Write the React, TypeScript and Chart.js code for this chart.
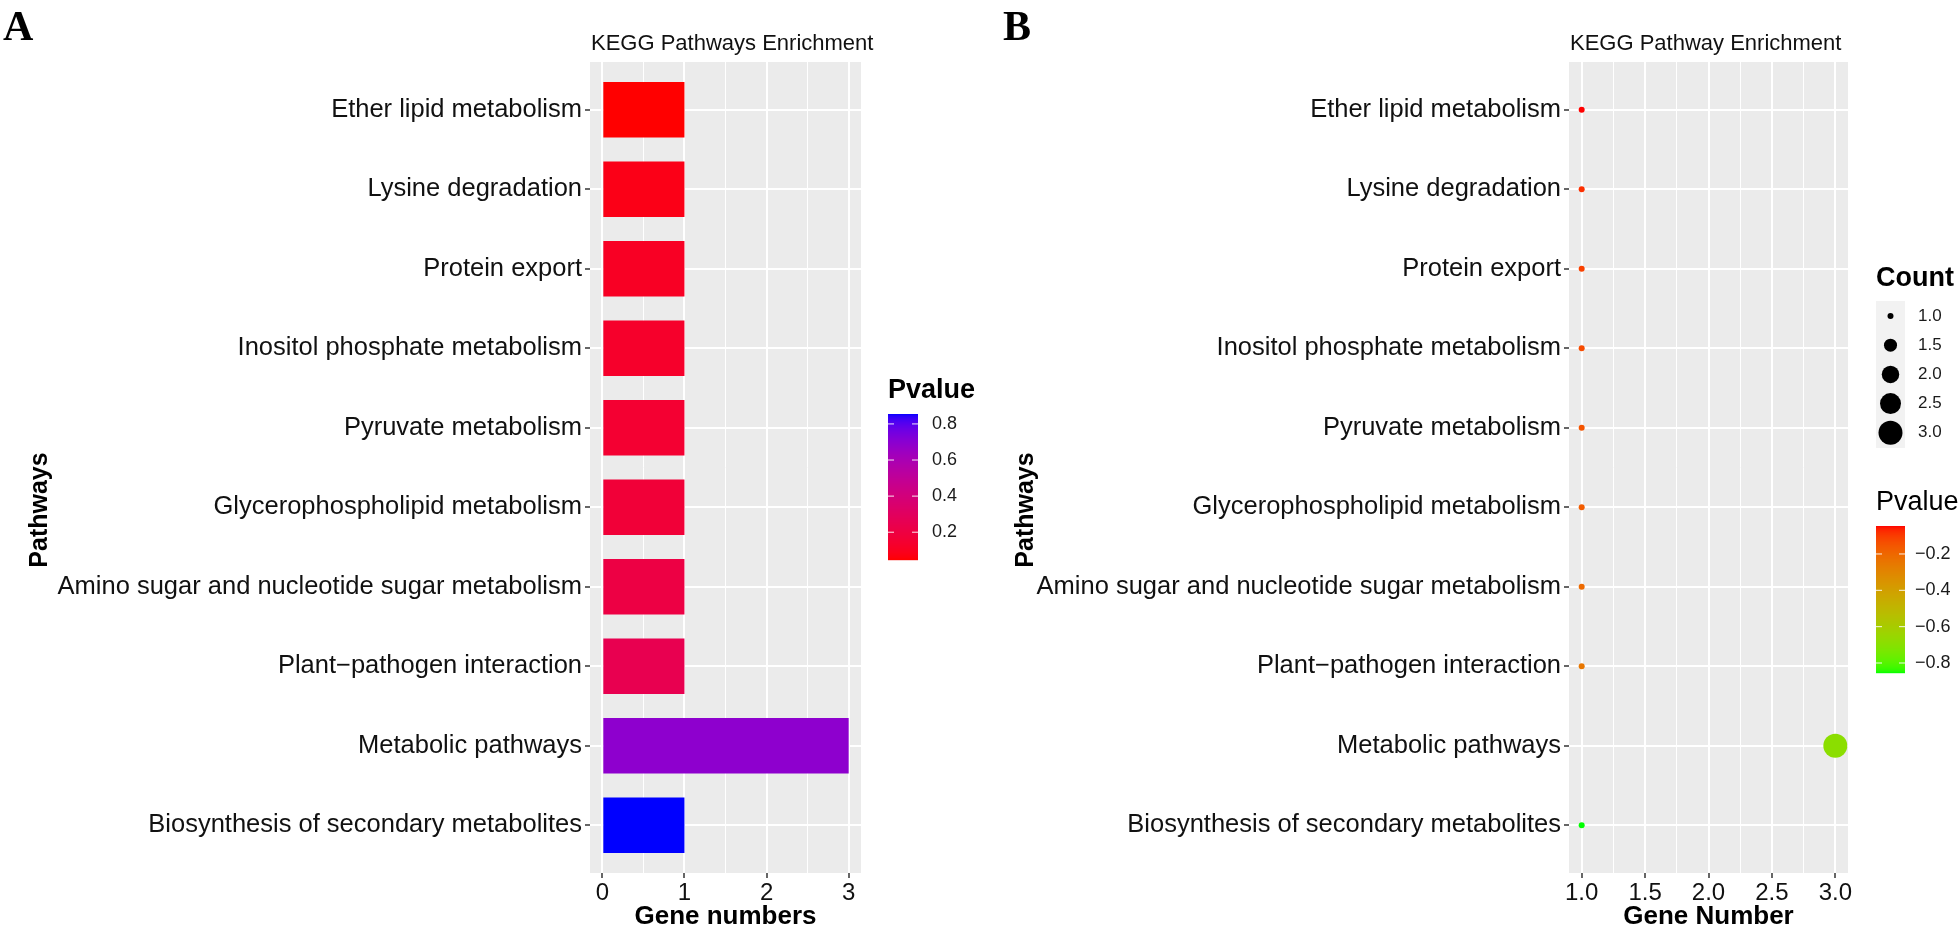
import React, { useEffect, useRef } from "react";
import { Chart, registerables } from "chart.js";

Chart.register(...registerables);

// ---------------- data ----------------
const pathways = [
  "Ether lipid metabolism",
  "Lysine degradation",
  "Protein export",
  "Inositol phosphate metabolism",
  "Pyruvate metabolism",
  "Glycerophospholipid metabolism",
  "Amino sugar and nucleotide sugar metabolism",
  "Plant\u2212pathogen interaction",
  "Metabolic pathways",
  "Biosynthesis of secondary metabolites",
];
const geneNumbersA = [1, 1, 1, 1, 1, 1, 1, 1, 3, 1];
const pvaluesA = [0.046, 0.08, 0.11, 0.13, 0.15, 0.17, 0.21, 0.25, 0.69, 0.855];

const geneNumbersB = [1, 1, 1, 1, 1, 1, 1, 1, 3, 1];
const countsB = [1, 1, 1, 1, 1, 1, 1, 1, 3, 1];
const pvaluesB = [-0.046, -0.08, -0.11, -0.13, -0.15, -0.17, -0.21, -0.25, -0.69, -0.855];

const xTicksA = [0, 0.5, 1, 1.5, 2, 2.5, 3];
const xMajorA = [0, 1, 2, 3];
const xTicksB = [1, 1.25, 1.5, 1.75, 2, 2.25, 2.5, 2.75, 3];
const xMajorB = [1, 1.5, 2, 2.5, 3];
const pvalueBreaksA = [0.2, 0.4, 0.6, 0.8];
const pvalueBreaksB = [-0.8, -0.6, -0.4, -0.2];
const countBreaks = [1, 1.5, 2, 2.5, 3];

const FONT = '"Liberation Sans", Arial, Helvetica, sans-serif';
const SERIF = '"Liberation Serif", "Times New Roman", serif';

// ---------------- colour helpers (CIELAB interpolation like ggplot) ----------------
function hexToRgb(h: string): number[] {
  const n = parseInt(h.slice(1), 16);
  return [(n >> 16) & 255, (n >> 8) & 255, n & 255];
}
function toLin(c: number) {
  c /= 255;
  return c <= 0.04045 ? c / 12.92 : Math.pow((c + 0.055) / 1.055, 2.4);
}
function fromLin(c: number) {
  const v = c <= 0.0031308 ? 12.92 * c : 1.055 * Math.pow(c, 1 / 2.4) - 0.055;
  return Math.round(Math.max(0, Math.min(1, v)) * 255);
}
const Xn = 0.95047, Yn = 1, Zn = 1.08883;
function rgbToLab(rgb: number[]): number[] {
  const [R, G, B] = rgb.map(toLin);
  const X = 0.4124564 * R + 0.3575761 * G + 0.1804375 * B;
  const Y = 0.2126729 * R + 0.7151522 * G + 0.072175 * B;
  const Z = 0.0193339 * R + 0.119192 * G + 0.9503041 * B;
  const f = (t: number) => (t > 0.008856 ? Math.cbrt(t) : 7.787 * t + 16 / 116);
  const fx = f(X / Xn), fy = f(Y / Yn), fz = f(Z / Zn);
  return [116 * fy - 16, 500 * (fx - fy), 200 * (fy - fz)];
}
function labToRgb(lab: number[]): number[] {
  const [L, a, b] = lab;
  const fy = (L + 16) / 116;
  const fx = fy + a / 500;
  const fz = fy - b / 200;
  const inv = (t: number) => (t > 0.206893 ? t * t * t : (t - 16 / 116) / 7.787);
  const X = inv(fx) * Xn, Y = inv(fy) * Yn, Z = inv(fz) * Zn;
  const R = 3.2404542 * X - 1.5371385 * Y - 0.4985314 * Z;
  const G = -0.969266 * X + 1.8760108 * Y + 0.041556 * Z;
  const B = 0.0556434 * X - 0.2040259 * Y + 1.0572252 * Z;
  return [fromLin(R), fromLin(G), fromLin(B)];
}
function makeScale(lowHex: string, highHex: string, min: number, max: number) {
  const lo = rgbToLab(hexToRgb(lowHex));
  const hi = rgbToLab(hexToRgb(highHex));
  return (v: number) => {
    const t = Math.max(0, Math.min(1, (v - min) / (max - min)));
    const rgb = labToRgb([0, 1, 2].map((i) => lo[i] + (hi[i] - lo[i]) * t));
    return `rgb(${rgb[0]},${rgb[1]},${rgb[2]})`;
  };
}

const minA = Math.min(...pvaluesA), maxA = Math.max(...pvaluesA);
const colorA = makeScale("#FF0000", "#0000FF", minA, maxA);
const minB = Math.min(...pvaluesB), maxB = Math.max(...pvaluesB);
const colorB = makeScale("#00FF00", "#FF0000", minB, maxB);

// point radius (area-proportional size scale)
const sizeOf = (c: number) => Math.sqrt(9 + 67.5 * (c - 1));

// ---------------- drawing plugins ----------------
function backgroundPlugin(id: string) {
  return {
    id,
    beforeDraw(chart: any) {
      const { ctx, chartArea: a } = chart;
      ctx.save();
      ctx.fillStyle = "#FFFFFF";
      ctx.fillRect(0, 0, chart.width, chart.height);
      ctx.fillStyle = "#EBEBEB";
      ctx.fillRect(a.left, a.top, a.right - a.left, a.bottom - a.top);
      ctx.restore();
    },
  };
}

function drawColorbar(
  ctx: CanvasRenderingContext2D,
  x: number, y: number, w: number, h: number,
  min: number, max: number, scale: (v: number) => string,
  breaks: number[], labelX: number, fmt: (v: number) => string
) {
  for (let i = 0; i < h; i++) {
    const v = max - ((i + 0.5) / h) * (max - min);
    ctx.fillStyle = scale(v);
    ctx.fillRect(x, y + i, w, 1.2);
  }
  ctx.font = `18px ${FONT}`;
  ctx.textBaseline = "middle";
  ctx.textAlign = "left";
  breaks.forEach((b) => {
    const py = y + h - ((b - min) / (max - min)) * h;
    ctx.strokeStyle = "rgba(255,255,255,0.9)";
    ctx.lineWidth = 1;
    ctx.beginPath();
    ctx.moveTo(x, py);
    ctx.lineTo(x + 6, py);
    ctx.moveTo(x + w - 6, py);
    ctx.lineTo(x + w, py);
    ctx.stroke();
    ctx.fillStyle = "#1A1A1A";
    ctx.fillText(fmt(b), labelX, py);
  });
}

function drawYTitle(ctx: CanvasRenderingContext2D, x: number, y: number) {
  ctx.save();
  ctx.translate(x, y);
  ctx.rotate(-Math.PI / 2);
  ctx.font = `bold 25px ${FONT}`;
  ctx.fillStyle = "#000";
  ctx.textAlign = "center";
  ctx.textBaseline = "middle";
  ctx.fillText("Pathways", 0, 0);
  ctx.restore();
}

const annotateA = {
  id: "annotateA",
  afterDraw(chart: any) {
    const { ctx, chartArea: a } = chart;
    ctx.save();
    ctx.fillStyle = "#000";
    ctx.font = `bold 42px ${SERIF}`;
    ctx.textBaseline = "alphabetic";
    ctx.textAlign = "left";
    ctx.fillText("A", 3, 40);
    ctx.font = `22px ${FONT}`;
    ctx.fillStyle = "#111";
    ctx.fillText("KEGG Pathways Enrichment", a.left + 1, 50);
    drawYTitle(ctx, 40, 510);
    ctx.font = `bold 27px ${FONT}`;
    ctx.fillStyle = "#000";
    ctx.textBaseline = "alphabetic";
    ctx.textAlign = "left";
    ctx.fillText("Pvalue", 888, 398);
    drawColorbar(ctx, 888, 414, 30, 146, minA, maxA, colorA, pvalueBreaksA, 932, (v) => v.toFixed(1));
    ctx.restore();
  },
};

const annotateB = {
  id: "annotateB",
  afterDraw(chart: any) {
    const { ctx, chartArea: a } = chart;
    const ox = 980;
    ctx.save();
    ctx.fillStyle = "#000";
    ctx.font = `bold 42px ${SERIF}`;
    ctx.textBaseline = "alphabetic";
    ctx.textAlign = "left";
    ctx.fillText("B", 1003 - ox, 40);
    ctx.font = `22px ${FONT}`;
    ctx.fillStyle = "#111";
    ctx.fillText("KEGG Pathway Enrichment", a.left + 1, 50);
    drawYTitle(ctx, 1026 - ox, 510);

    // Count legend
    ctx.textAlign = "left";
    ctx.textBaseline = "alphabetic";
    ctx.font = `bold 27px ${FONT}`;
    ctx.fillStyle = "#000";
    ctx.fillText("Count", 1876 - ox, 286);
    ctx.fillStyle = "#F2F2F2";
    ctx.fillRect(1876 - ox, 301, 29, 147);
    ctx.font = `17px ${FONT}`;
    ctx.textBaseline = "middle";
    countBreaks.forEach((c, i) => {
      const cy = 316 + i * 29.2;
      ctx.fillStyle = "#000";
      ctx.beginPath();
      ctx.arc(1890.5 - ox, cy, sizeOf(c), 0, Math.PI * 2);
      ctx.fill();
      ctx.fillStyle = "#1A1A1A";
      ctx.fillText(c.toFixed(1), 1918 - ox, cy);
    });

    // Pvalue legend
    ctx.textBaseline = "alphabetic";
    ctx.font = `27px ${FONT}`;
    ctx.fillStyle = "#000";
    ctx.fillText("Pvalue", 1876 - ox, 510);
    drawColorbar(ctx, 1876 - ox, 526, 29, 147, minB, maxB, colorB, pvalueBreaksB, 1915 - ox,
      (v) => (v < 0 ? "\u2212" : "") + Math.abs(v).toFixed(1));
    ctx.restore();
  },
};

// ---------------- shared axis options ----------------
function yAxis(width: number) {
  return {
    type: "linear",
    reverse: true,
    offset: false,
    min: -0.6,
    max: 9.6,
    afterBuildTicks: (s: any) => {
      s.ticks = pathways.map((_, i) => ({ value: i }));
    },
    afterFit: (s: any) => {
      s.width = width;
    },
    ticks: {
      autoSkip: false,
      padding: 3,
      color: "#111",
      font: { size: 25.5, family: FONT },
      callback: (v: any) => pathways[v as number],
    },
    grid: {
      offset: false,
      color: "#FFFFFF",
      lineWidth: 2,
      drawTicks: true,
      tickLength: 5,
      tickColor: "#333333",
      tickWidth: 1.5,
    },
    border: { display: false },
    title: { display: false },
  };
}

function xAxis(min: number, max: number, ticks: number[], majors: number[], title: string, fmt: (v: number) => string) {
  const isMajor = (v: number) => majors.some((m) => Math.abs(m - v) < 1e-9);
  return {
    type: "linear",
    offset: false,
    min,
    max,
    afterBuildTicks: (s: any) => {
      s.ticks = ticks.map((v) => ({ value: v }));
    },
    afterFit: (s: any) => {
      s.height = 57;
    },
    ticks: {
      autoSkip: false,
      maxRotation: 0,
      padding: 1,
      color: "#111",
      font: { size: 24, family: FONT },
      callback: (v: any) => (isMajor(v as number) ? fmt(v as number) : ""),
    },
    grid: {
      offset: false,
      color: "#FFFFFF",
      lineWidth: (c: any) => (c.tick && isMajor(c.tick.value) ? 2 : 1),
      drawTicks: true,
      tickLength: 5,
      tickColor: (c: any) => (c.tick && isMajor(c.tick.value) ? "#333333" : "rgba(0,0,0,0)"),
      tickWidth: 1.5,
    },
    border: { display: false },
    title: {
      display: true,
      text: title,
      color: "#000",
      font: { size: 26, weight: "bold", family: FONT, lineHeight: 1 },
      padding: { top: 0, bottom: 0 },
    },
  };
}

// ---------------- component ----------------
export default function App() {
  const refA = useRef<HTMLCanvasElement>(null);
  const refB = useRef<HTMLCanvasElement>(null);

  useEffect(() => {
    Chart.defaults.font.family = FONT;
    const chartA = new Chart(refA.current as HTMLCanvasElement, {
      type: "bar",
      data: {
        datasets: [
          {
            data: pathways.map((_, i) => ({ x: geneNumbersA[i], y: i })),
            backgroundColor: pvaluesA.map((p) => colorA(p)),
            borderWidth: 0,
            barPercentage: 0.7,
            categoryPercentage: 1,
          },
        ],
      },
      options: {
        indexAxis: "y",
        animation: false,
        responsive: false,
        devicePixelRatio: 1,
        layout: { padding: { left: 0, top: 62, right: 119, bottom: 0 } },
        plugins: { legend: { display: false }, tooltip: { enabled: false }, title: { display: false } },
        scales: {
          x: xAxis(-0.15, 3.15, xTicksA, xMajorA, "Gene numbers", (v) => String(v)) as any,
          y: yAxis(590) as any,
        },
      } as any,
      plugins: [backgroundPlugin("bgA"), annotateA],
    });

    const chartB = new Chart(refB.current as HTMLCanvasElement, {
      type: "scatter",
      data: {
        datasets: [
          {
            data: pathways.map((_, i) => ({ x: geneNumbersB[i], y: i })),
            backgroundColor: pvaluesB.map((p) => colorB(p)),
            borderWidth: 0,
            pointRadius: countsB.map((c) => sizeOf(c)),
            pointHoverRadius: countsB.map((c) => sizeOf(c)),
          },
        ],
      },
      options: {
        animation: false,
        responsive: false,
        devicePixelRatio: 1,
        layout: { padding: { left: 0, top: 62, right: 112, bottom: 0 } },
        plugins: { legend: { display: false }, tooltip: { enabled: false }, title: { display: false } },
        scales: {
          x: xAxis(0.9, 3.1, xTicksB, xMajorB, "Gene Number", (v) => v.toFixed(1)) as any,
          y: yAxis(589) as any,
        },
      } as any,
      plugins: [backgroundPlugin("bgB"), annotateB],
    });

    return () => {
      chartA.destroy();
      chartB.destroy();
    };
  }, []);

  return (
    <div style={{ position: "fixed", left: 0, top: 0, width: 1960, height: 930, background: "#fff" }}>
      <canvas
        ref={refA}
        width={980}
        height={930}
        style={{ position: "absolute", left: 0, top: 0, width: 980, height: 930 }}
      />
      <canvas
        ref={refB}
        width={980}
        height={930}
        style={{ position: "absolute", left: 980, top: 0, width: 980, height: 930 }}
      />
    </div>
  );
}
